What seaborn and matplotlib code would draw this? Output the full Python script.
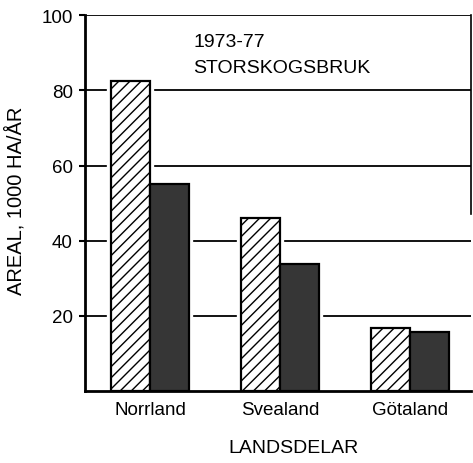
import pandas as pd
import matplotlib
matplotlib.use("Agg")
import matplotlib.pyplot as plt
import seaborn as sns

# values (1000 ha per year)
regions = ["Norrland", "Svealand", "Götaland"]
series = ["hatched", "dark"]
hatched_vals = [82.5, 46.0, 16.8]
dark_vals = [55.0, 33.7, 15.7]
yticks = [20, 40, 60, 80, 100]

df = pd.DataFrame({
    "region": regions * 2,
    "serie": [series[0]] * 3 + [series[1]] * 3,
    "areal": hatched_vals + dark_vals,
})

sns.set_style("white")
plt.rcParams["font.family"] = ["Liberation Sans", "DejaVu Sans"]
plt.rcParams["hatch.linewidth"] = 1.0
for key in ["text.color", "axes.labelcolor", "xtick.color", "ytick.color"]:
    plt.rcParams[key] = "black"

fig = plt.figure(figsize=(4.73, 4.64), dpi=100)
ax = fig.add_axes([0.18, 0.155, 0.816, 0.81])

# white halo under the bars so the grid lines stop short of them
sns.barplot(data=df, x="region", y="areal", hue="serie", order=regions,
            hue_order=series, palette=["white", "white"], width=0.6,
            edgecolor="white", linewidth=6, legend=False, ax=ax, zorder=0.8)

sns.barplot(data=df, x="region", y="areal", hue="serie", order=regions,
            hue_order=series, palette=["white", "#363636"], width=0.6,
            edgecolor="black", linewidth=1.6, legend=False, ax=ax, zorder=1)

for bar in ax.containers[2]:
    bar.set_hatch("///")

ax.set_ylim(0, 100)
ax.set_xlim(-0.5, 2.47)
ax.set_yticks(yticks)
ax.yaxis.grid(True, color="black", linewidth=1.3)
ax.set_axisbelow(True)

ax.tick_params(axis="y", left=True, length=4, width=1.5, labelsize=13.5, pad=5)
ax.tick_params(axis="x", bottom=False, labelsize=13.5, pad=4)

for s in ["left", "bottom"]:
    ax.spines[s].set_linewidth(2)
    ax.spines[s].set_color("black")
ax.spines["top"].set_visible(False)
ax.spines["right"].set_bounds(47, 100)
ax.spines["right"].set_linewidth(1.2)
ax.spines["right"].set_color("black")

ax.set_xlabel("LANDSDELAR", fontsize=14)
ax.xaxis.set_label_coords(0.54, -0.128)
ax.set_ylabel("AREAL, 1000 HA/ÅR", fontsize=14.5)
ax.yaxis.set_label_coords(-0.155, 0.508)

ax.text(0.33, 93, "1973-77", fontsize=14, va="center", ha="left")
ax.text(0.33, 86.2, "STORSKOGSBRUK", fontsize=14, va="center", ha="left")

fig.savefig("out.png", dpi=100)
